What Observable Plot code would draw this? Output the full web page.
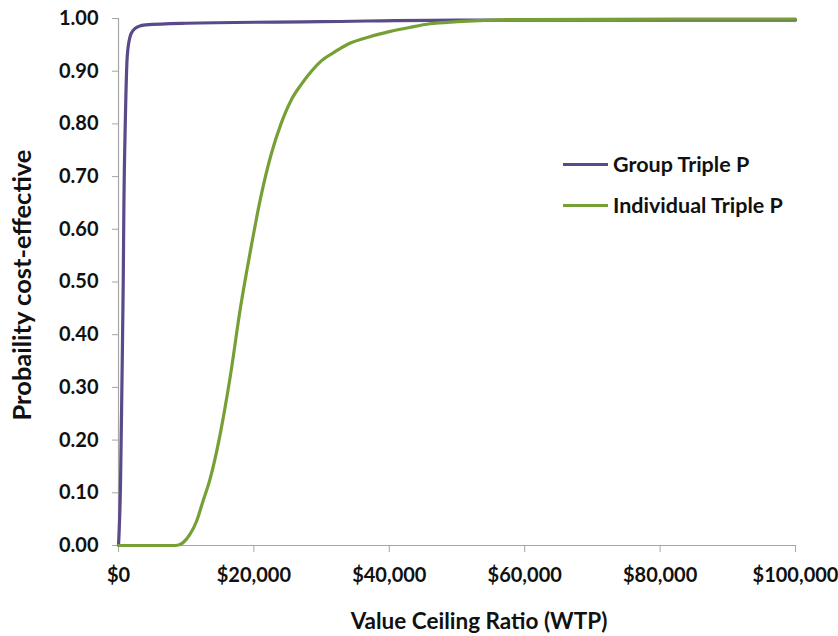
<!DOCTYPE html>
<html>
<head>
<meta charset="utf-8">
<script src="https://cdn.jsdelivr.net/npm/d3@7"></script>
<script src="https://cdn.jsdelivr.net/npm/@observablehq/plot@0.6"></script>
<style>
  html, body { margin: 0; padding: 0; background: #fff; }
  #wrap { position: relative; width: 838px; height: 636px; font-family: Lato, "Open Sans", sans-serif; }
  #legend { position: absolute; left: 563px; top: 151px; font-weight: bold; font-size: 21.5px; color: #111; }
  .item { display: flex; align-items: center; height: 26px; margin-bottom: 15px; }
  .swatch { width: 45px; height: 3px; margin-right: 5px; }
</style>
</head>
<body>
<div id="wrap"><div id="chart"></div><div id="legend"></div></div>
<script>
const seriesNames = ["Group Triple P", "Individual Triple P"];
const seriesColors = ["#5a4a8a", "#76a035"];

const groupWTP = [0, 300, 500, 700, 800, 1000, 1300, 1700, 2200, 3000, 4000, 10000, 30000, 50000, 60000, 100000];
const groupProb = [0, 0.12, 0.3, 0.5, 0.65, 0.8, 0.93, 0.965, 0.978, 0.985, 0.988, 0.991, 0.994, 0.997, 0.997, 0.997];

const indivWTP = [0, 8500, 9500, 10500, 11500, 12500, 13500, 15000, 16500, 18000, 19500, 21000, 22500, 24000, 25500, 27000, 28500, 30000, 32000, 34000, 37000, 40000, 43000, 46000, 50000, 55000, 60000, 100000];
const indivProb = [0, 0, 0.005, 0.02, 0.045, 0.085, 0.125, 0.21, 0.32, 0.45, 0.56, 0.66, 0.74, 0.80, 0.845, 0.875, 0.90, 0.92, 0.937, 0.952, 0.965, 0.975, 0.983, 0.99, 0.994, 0.997, 0.998, 0.999];

const xTicks = [0, 20000, 40000, 60000, 80000, 100000];
const yTicks = [0, 0.1, 0.2, 0.3, 0.4, 0.5, 0.6, 0.7, 0.8, 0.9, 1.0];

const rows = [
  ...groupWTP.map((x, i) => ({x, y: groupProb[i], s: seriesNames[0]})),
  ...indivWTP.map((x, i) => ({x, y: indivProb[i], s: seriesNames[1]}))
];

const plot = Plot.plot({
  width: 838,
  height: 636,
  marginLeft: 118,
  marginRight: 43,
  marginTop: 18,
  marginBottom: 91,
  style: { fontFamily: "Lato, 'Open Sans', sans-serif", fontWeight: "bold", fontSize: "20px", color: "#111", background: "#fff" },
  x: { domain: [0, 100000] },
  y: { domain: [0, 1] },
  color: { domain: seriesNames, range: seriesColors },
  marks: [
    Plot.ruleX([0], { stroke: "#a6a6a6", strokeWidth: 1.2 }),
    Plot.ruleY([0], { stroke: "#a6a6a6", strokeWidth: 1.2 }),
    Plot.axisX({ ticks: xTicks, tickSize: 7, tickPadding: 15, stroke: "#a6a6a6", tickFormat: d => "$" + d3.format(",")(d), fill: "#111", label: null }),
    Plot.axisY({ ticks: yTicks, tickSize: 6, tickPadding: 14, stroke: "#a6a6a6", tickFormat: d3.format(".2f"), fill: "#111", label: null }),
    Plot.line(rows, { x: "x", y: "y", z: "s", stroke: "s", strokeWidth: 3.2, curve: "monotone-x" }),
    Plot.text(["Value Ceiling Ratio (WTP)"], { frameAnchor: "bottom", textAnchor: "middle", dx: 22, dy: 83, fontSize: 22.5, fontWeight: "bold", fill: "#111" }),
    Plot.text(["Probaility cost-effective"], { frameAnchor: "left", textAnchor: "middle", dx: -96, dy: 3, rotate: -90, fontSize: 25.5, fontWeight: "bold", fill: "#111" })
  ]
});
document.getElementById("chart").appendChild(plot);

const legend = document.getElementById("legend");
seriesNames.forEach((n, i) => {
  const item = document.createElement("div");
  item.className = "item";
  item.innerHTML = `<span class="swatch" style="background:${seriesColors[i]}"></span><span>${n}</span>`;
  legend.appendChild(item);
});
</script>
</body>
</html>
